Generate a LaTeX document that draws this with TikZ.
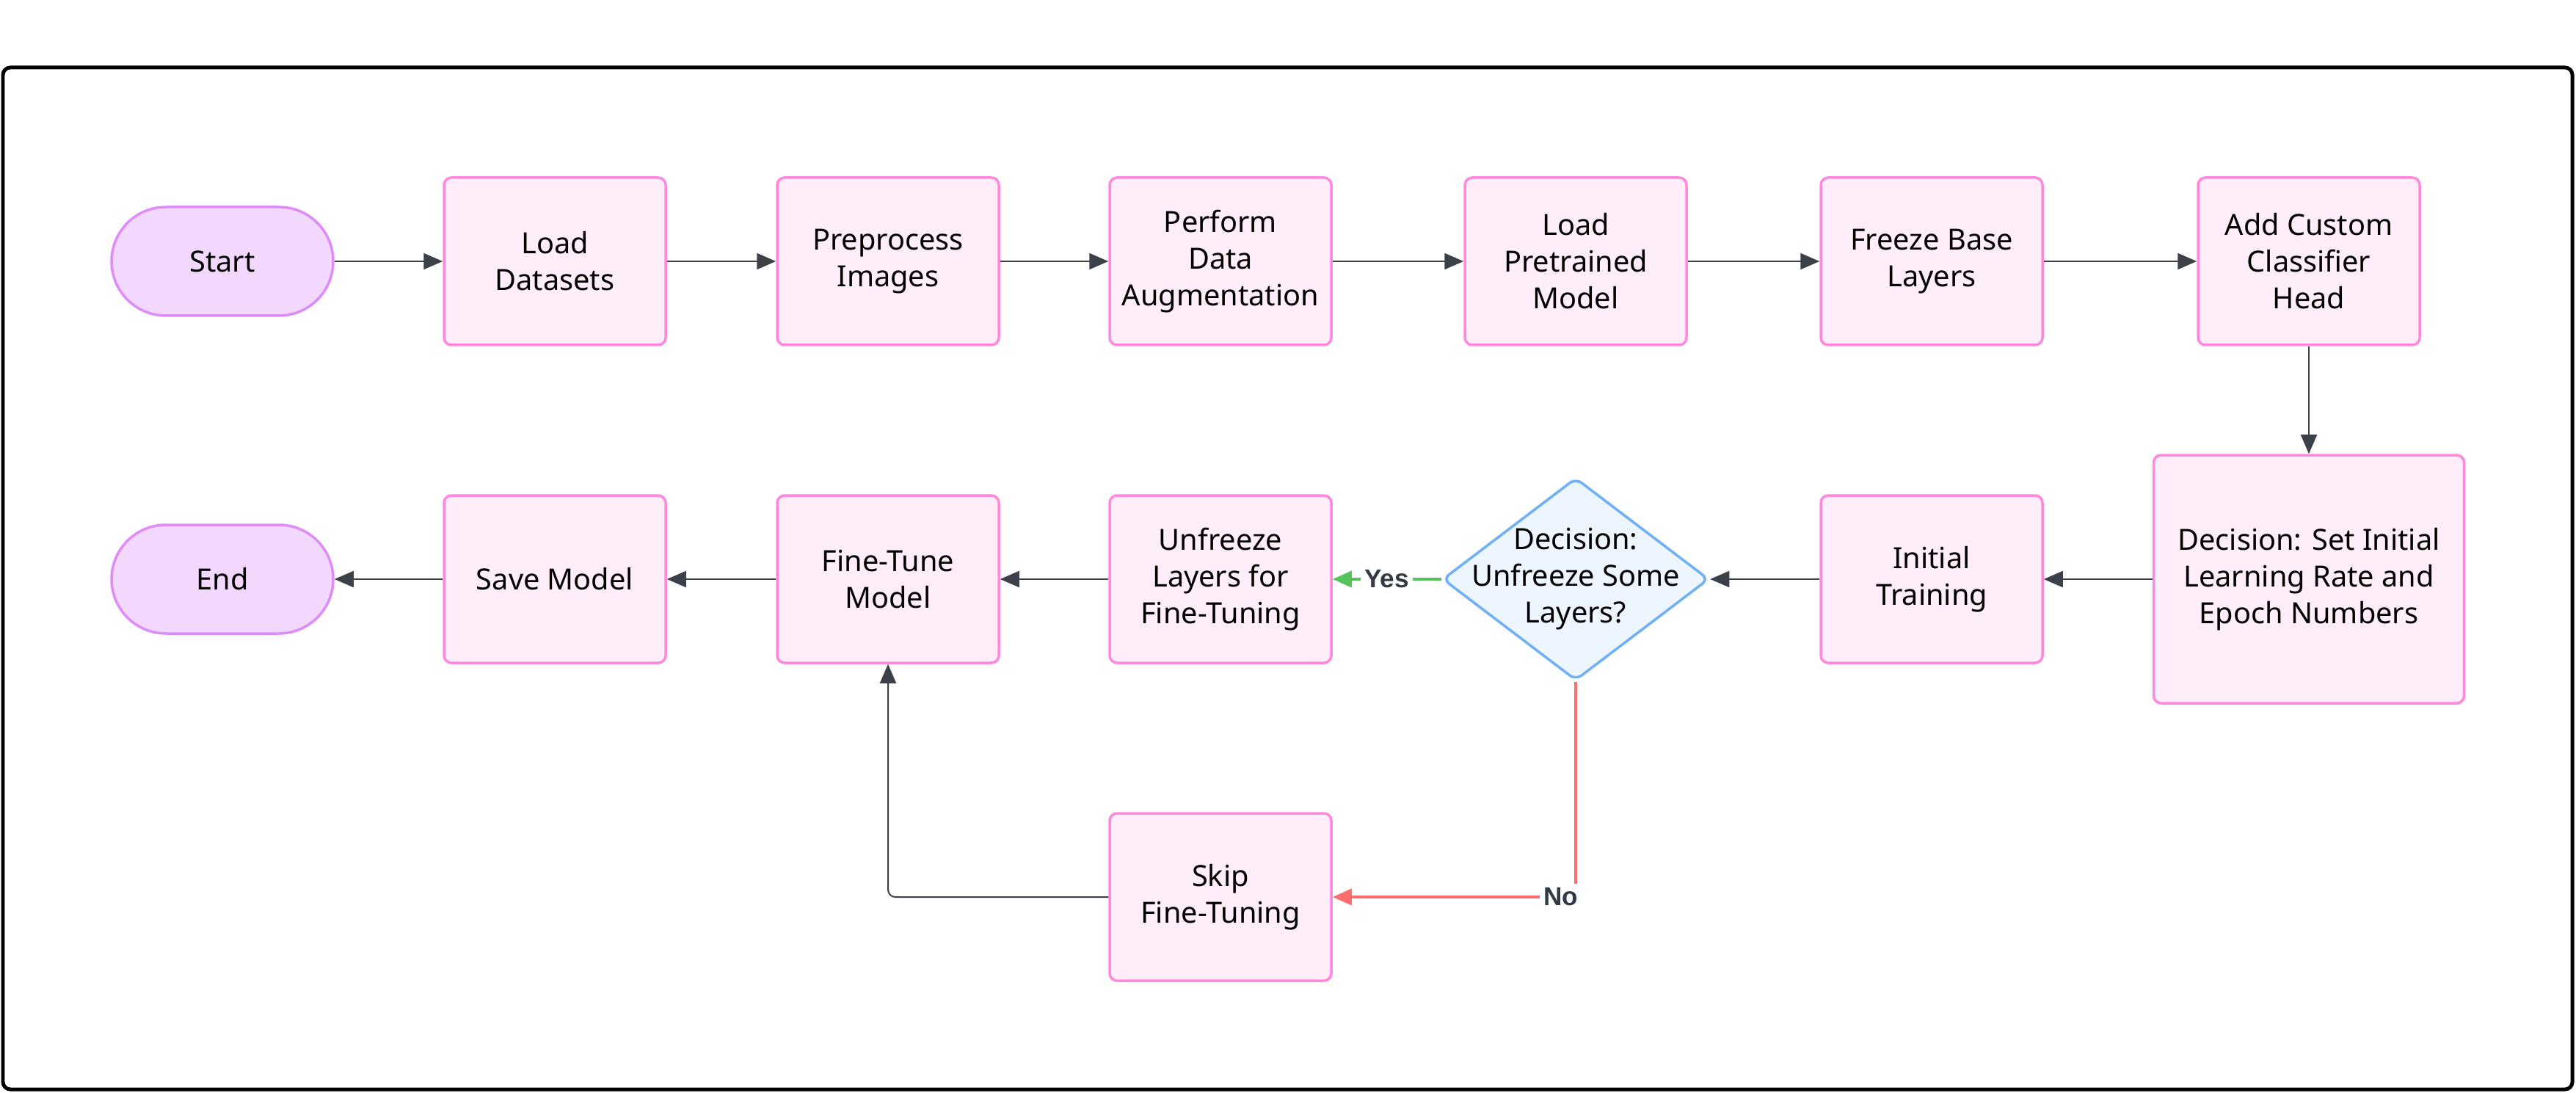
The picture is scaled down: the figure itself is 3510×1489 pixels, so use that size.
\documentclass[tikz,border=0pt]{standalone}
\usepackage{fontspec}
\setmainfont{Noto Sans}
\newfontfamily\lblfont{Liberation Sans}
\usetikzlibrary{arrows.meta,shapes.geometric}
\definecolor{boxfill}{HTML}{FFEEFA}
\definecolor{boxdraw}{HTML}{FF88DD}
\definecolor{termfill}{HTML}{F2D8FD}
\definecolor{termdraw}{HTML}{DF8CFB}
\definecolor{diafill}{HTML}{EDF5FF}
\definecolor{diadraw}{HTML}{70B0F7}
\definecolor{arrowc}{HTML}{3B4049}
\definecolor{yesc}{HTML}{55C35B}
\definecolor{noc}{HTML}{FF6E6E}
\definecolor{lbltext}{HTML}{333A44}
\begin{document}
\begin{tikzpicture}[x=0.1mm,y=-0.1mm,
  txt/.style={font=\fontsize{11.3}{14.2}\selectfont, text=black, align=center},
  proc/.style={txt, draw=boxdraw, fill=boxfill, line width=0.35mm, rounded corners=1mm,
    minimum width=30.2mm, minimum height=22.8mm, inner sep=0pt},
  term/.style={txt, draw=termdraw, fill=termfill, line width=0.35mm, rounded corners=7.4mm,
    minimum width=30.2mm, minimum height=14.8mm, inner sep=0pt},
  dia/.style={diamond, draw=diadraw, fill=diafill, line width=0.35mm, rounded corners=1mm,
    minimum width=36.3mm, minimum height=27.6mm, inner sep=0pt},
  arr/.style={draw=arrowc, line width=0.2mm, -{Triangle[length=2.6mm,width=2.2mm]}},
  yesarr/.style={draw=yesc, line width=0.4mm, -{Triangle[length=2.6mm,width=2.2mm]}},
  noarr/.style={draw=noc, line width=0.4mm, -{Triangle[length=2.6mm,width=2.2mm]}},
  lbl/.style={fill=white, text=lbltext, font=\lblfont\bfseries\fontsize{10}{12}\selectfont, inner sep=1.5pt}
]
\useasboundingbox (0,0) rectangle (3510,1489);
\draw[line width=0.5mm, rounded corners=1mm] (4,92) rectangle (3505,1484);

% row 1
\node[term] (start) at (303,356) {Start};
\node[proc] (ld)  at (756,356)  {Load\\Datasets};
\node[proc] (pp)  at (1210,356) {Preprocess\\Images};
\node[proc] (aug) at (1663,356) {Perform\\Data\\Augmentation};
\node[proc] (lp)  at (2147,356) {Load\\Pretrained\\Model};
\node[proc] (fz)  at (2632,356) {Freeze Base\\Layers};
\node[proc] (acc) at (3146,356) {Add Custom\\Classifier\\Head};

% row 2
\node[term] (endn) at (303,789) {End};
\node[proc] (sm)  at (756,789)  {Save Model};
\node[proc] (ft)  at (1210,789) {Fine-Tune\\Model};
\node[proc] (unf) at (1663,789) {Unfreeze\\Layers for\\Fine-Tuning};
\node[dia, label={[txt]center:Decision:\\Unfreeze Some\\Layers?}] (dec) at (2147,789) {};
\node[proc] (it)  at (2632,789) {Initial\\Training};
\node[proc, minimum width=42.3mm, minimum height=33.8mm] (dset) at (3146,789) {Decision: Set Initial\\Learning Rate and\\Epoch Numbers};

% row 3
\node[proc] (skip) at (1663,1222) {Skip\\Fine-Tuning};

% connectors
\draw[arr] (start) -- (ld);
\draw[arr] (ld) -- (pp);
\draw[arr] (pp) -- (aug);
\draw[arr] (aug) -- (lp);
\draw[arr] (lp) -- (fz);
\draw[arr] (fz) -- (acc);
\draw[arr] (acc) -- (dset);
\draw[arr] (dset) -- (it);
\draw[arr] (it) -- (dec);
\draw[yesarr] (dec) -- (unf) node[lbl, pos=0.5] {Yes};
\draw[noarr] (dec.south) |- (skip) node[lbl, pos=0.5, xshift=-2mm] {No};
\draw[arr, rounded corners=1mm] (skip.west) -| (ft.south);
\draw[arr] (unf) -- (ft);
\draw[arr] (ft) -- (sm);
\draw[arr] (sm) -- (endn);
\end{tikzpicture}
\end{document}
